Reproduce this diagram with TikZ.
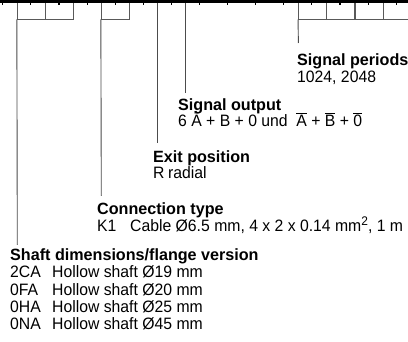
\documentclass[tikz,border=0pt]{standalone}
\usepackage{fontspec}
\setmainfont{Liberation Sans}[FakeStretch=0.955]
\newfontfamily\hdfont{Liberation Sans}[FakeStretch=0.99]
\newcommand\ovb[1]{\leavevmode\vbox{\hrule height 0.8pt\kern 1.4pt\hbox{#1}}}
\newcommand\code[2]{\makebox[#1][l]{#2}}
\begin{document}
\begin{tikzpicture}[x=1pt,y=-1pt,
  field/.style={draw=black!65, line width=0.9pt, inner sep=0pt, minimum height=16.5pt, minimum width=28pt},
  stem/.style={draw=black!70, line width=0.9pt},
  lbl/.style={anchor=base west, inner sep=0pt, font=\fontsize{16.5}{18}\selectfont},
  hd/.style={anchor=base west, inner sep=0pt, font=\hdfont\fontsize{16.3}{18}\selectfont\bfseries}]
\fill[white] (0,0) rectangle (408,342);
% code fields
\node[field] (f1) at (31.3,10.8) {};
\node[field] (f2) at (59.3,10.8) {};
\node[field] (f3) at (115.3,10.8) {};
\node[field] (f6) at (312.5,10.8) {};
\node[field] (f7) at (340.8,10.8) {};
\node[field] (f8) at (369.1,10.8) {};
\node[field] (f9) at (397.4,10.8) {};
\coordinate (f4) at (157.3,2.5);
\coordinate (f5) at (185.7,2.5);
% labels
\node[hd]  (hper) at (297,65.5) {Signal periods};
\node[lbl] (tper) at (297,82.5) {1024, 2048};
\node[hd]  (hout) at (178,110.5) {Signal output};
\node[lbl] (tout) at (178,127) {6 \=A + B + 0 und \ \ovb{A} + \ovb{B} + \ovb{0}};
\node[hd]  (hexit) at (153,162.5) {Exit position};
\node[lbl] (texit) at (153,179) {\code{15pt}{R}radial};
\node[hd]  (hcon) at (97,214.5) {Connection type};
\node[lbl] (tcon) at (97,231.5) {\code{33pt}{K1}Cable Ø6.5 mm, 4 x 2 x 0.14 mm\raisebox{5.5pt}{\fontsize{12.5}{12}\selectfont 2}, 1 m};
\node[hd]  (hsh) at (10,260.5) {Shaft dimensions/flange version};
\node[lbl] (t1) at (10,278) {\code{42pt}{2CA}Hollow shaft Ø19 mm};
\node[lbl] (t2) at (10,295.3) {\code{42pt}{0FA}Hollow shaft Ø20 mm};
\node[lbl] (t3) at (10,312.6) {\code{42pt}{0HA}Hollow shaft Ø25 mm};
\node[lbl] (t4) at (10,330) {\code{42pt}{0NA}Hollow shaft Ø45 mm};
% stems
\coordinate (e1) at (17.3,245);
\coordinate (e3) at (101.3,196);
\coordinate (e4) at (157.3,143);
\coordinate (e5) at (185.7,93);
\coordinate (e6) at (298.4,43);
\draw[stem] (f1.south west) -- (e1);
\draw[stem] (f3.south west) -- (e3);
\draw[stem] (f4) -- (e4);
\draw[stem] (f5) -- (e5);
\draw[stem] (f6.south west) -- (e6);
% top rule with ticks (drawn last)
\coordinate (rl) at (0,1.6);
\coordinate (rr) at (408,1.6);
\draw[black, line width=3.2pt] (rl) -- (rr);
\foreach \i in {0,...,14} \draw[black, line width=1.1pt] (2.75+28.1*\i,2) -- (2.75+28.1*\i,4.8);
\pgfresetboundingbox
\useasboundingbox (0,0) rectangle (408,342);
\end{tikzpicture}
\end{document}
